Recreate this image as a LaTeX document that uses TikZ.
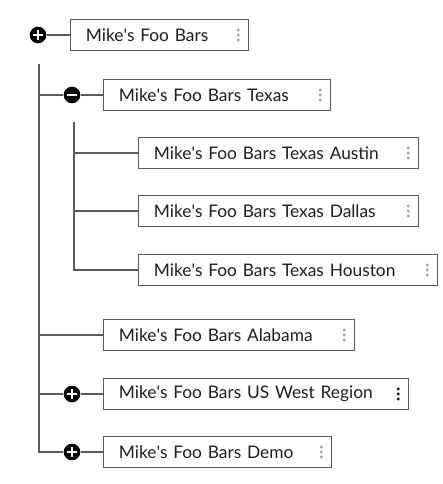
\documentclass[tikz,border=0pt]{standalone}
\usepackage{fontspec}
\setmainfont{Lato}
\usetikzlibrary{positioning, calc}
\definecolor{mygray}{RGB}{90,90,90}
\definecolor{mytext}{RGB}{30,30,35}
\definecolor{mydots}{RGB}{160,164,172}
\definecolor{mydark}{RGB}{20,20,20}
\tikzset{
  item/.style={rectangle, draw=mygray, fill=white, anchor=west,
    minimum height=23pt, inner xsep=11.5pt, inner ysep=0pt, align=left,
    text=mytext, font=\fontsize{13pt}{15pt}\selectfont, line width=0.9pt},
  toggle/.style={circle, fill=black, minimum size=12.5pt, inner sep=0pt},
  plus/.style={toggle, path picture={
    \draw[white, line width=2pt]
      ([xshift=-3.7pt]path picture bounding box.center) --
      ([xshift=3.7pt]path picture bounding box.center);
    \draw[white, line width=2pt]
      ([yshift=-3.7pt]path picture bounding box.center) --
      ([yshift=3.7pt]path picture bounding box.center);}},
  minus/.style={toggle, path picture={
    \draw[white, line width=2pt]
      ([xshift=-3.7pt]path picture bounding box.center) --
      ([xshift=3.7pt]path picture bounding box.center);}},
  tree/.style={line width=1.5pt, color=mygray}
}

\begin{document}
\begin{tikzpicture}[x=0.75pt, y=-0.75pt]
  \useasboundingbox (0,0) rectangle (442,484);
  % boxes: name/left/centre y/width/dots colour/label
  \foreach \n/\x/\y/\w/\c/\t in {
      b0/70/35/178/mydots/Mike\textquotesingle s Foo Bars,
      b1/103/95/227/mydots/Mike\textquotesingle s Foo Bars Texas,
      b2/138/153/280/mydots/Mike\textquotesingle s Foo Bars Texas Austin,
      b3/138/211/280/mydots/Mike\textquotesingle s Foo Bars Texas Dallas,
      b4/138/270/299/mydots/Mike\textquotesingle s Foo Bars Texas Houston,
      b5/103/335/251/mydots/Mike\textquotesingle s Foo Bars Alabama,
      b6/103/394/305/mydark/Mike\textquotesingle s Foo Bars US West Region,
      b7/103/452/228/mydots/Mike\textquotesingle s Foo Bars Demo} {
    \pgfmathsetmacro{\tw}{\w*0.75-23}
    \node[item, text width=\tw pt] (\n) at (\x,\y) {\t};
    \foreach \d in {-5,0,5}
      \fill[\c] ($(\n.east)+(-11,\d)$) circle (1.6);
  }
  % toggles
  \node[plus] (t0) at (38,35) {};
  \node[minus] (t1) at (72,95) {};
  \node[plus] (t6) at (72,394) {};
  \node[plus] (t7) at (72,452) {};
  \coordinate (trunk) at (39,64);
  \coordinate (branch) at (74,122);
  % connectors
  \draw[tree] (t0) -- (b0);
  \draw[tree] (trunk) |- (t7);
  \draw[tree] (trunk |- t1) -- (t1);
  \draw[tree] (trunk |- b5) -- (b5);
  \draw[tree] (trunk |- t6) -- (t6);
  \foreach \t in {1,6,7} \draw[tree] (t\t) -- (b\t);
  \draw[tree] (branch) |- (b4);
  \draw[tree] (branch |- b2) -- (b2);
  \draw[tree] (branch |- b3) -- (b3);
\end{tikzpicture}
\end{document}
